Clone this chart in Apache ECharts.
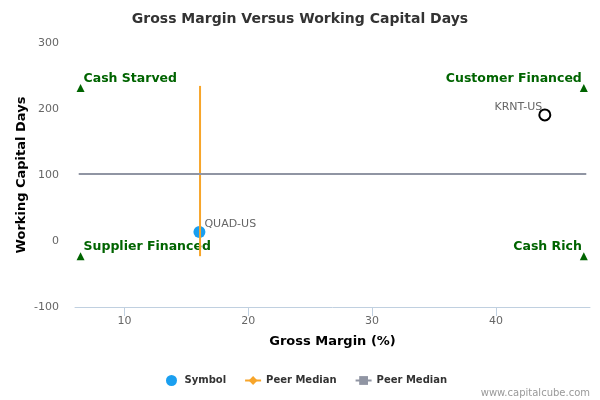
<!DOCTYPE html>
<html><head><meta charset="utf-8">
<script src="https://cdn.jsdelivr.net/npm/echarts@6/dist/echarts.min.js"></script>
<style>html,body{margin:0;padding:0;background:#fff}#c{width:600px;height:400px}</style>
</head><body><div id="c"></div>
<script>
const title = 'Gross Margin Versus Working Capital Days';
const xName = 'Gross Margin (%)';
const yName = 'Working Capital Days';
const xTicks = [10, 20, 30, 40];
const yTicks = [-100, 0, 100, 200, 300];
const symbolPoint = [[16.05, 13.6, 'QUAD-US']];
const peerPoint = [[43.95, 191, 'KRNT-US']];
const medianGM = [[16.1, -23], [16.1, 235]];
const medianWCD = [[6.3, 101.5], [47.3, 101.5]];
const quadrantLeft = [[6.45, 232, 'Cash Starved'], [6.45, -23, 'Supplier Financed']];
const quadrantRight = [[47.1, 232, 'Customer Financed'], [47.1, -23, 'Cash Rich']];

const F = 'DejaVu Sans, sans-serif';
const chart = echarts.init(document.getElementById('c'));
const qLabel = (align, dx) => ({
  show: true, position: 'top', align: align, distance: -1, offset: [dx, 0],
  formatter: p => p.data[2], color: '#006400', fontWeight: 'bold', fontSize: 12.5, fontFamily: F
});
chart.setOption({
  animation: false,
  title: { text: title, left: 'center', top: 7, textStyle: { fontSize: 14, fontWeight: 'bold', color: '#333', fontFamily: F } },
  graphic: [{ type: 'text', right: 10, bottom: 2, style: { text: 'www.capitalcube.com', fill: '#999', font: '10px ' + F } }],
  grid: { left: 75, right: 10, top: 43, bottom: 93 },
  legend: {
    bottom: 9, left: 161, itemGap: 18, itemWidth: 16, itemHeight: 11,
    textStyle: { fontWeight: 'bold', fontSize: 10, color: '#333', fontFamily: F },
    data: [{ name: 'Symbol', icon: 'circle' }, { name: 'Peer Median GM' }, { name: 'Peer Median WCD' }],
    formatter: n => n.startsWith('Peer Median') ? 'Peer Median' : n
  },
  xAxis: {
    type: 'value', min: 6, max: 47.6,
    name: xName, nameLocation: 'middle', nameGap: 28, nameMoveOverlap: false,
    nameTextStyle: { fontWeight: 'bold', fontSize: 13, color: '#000', fontFamily: F },
    axisLine: { show: true, onZero: false, lineStyle: { color: '#c0d0e0' } },
    axisTick: { show: true, length: 9, customValues: xTicks, lineStyle: { color: '#c0d0e0' } },
    axisLabel: { customValues: xTicks, color: '#666', fontSize: 11, fontFamily: F, margin: 9 },
    splitLine: { show: false }
  },
  yAxis: {
    type: 'value', min: -100, max: 300, interval: 100,
    name: yName, nameLocation: 'middle', nameGap: 47, nameMoveOverlap: false,
    nameTextStyle: { fontWeight: 'bold', fontSize: 13, color: '#000', fontFamily: F },
    axisLine: { show: false }, axisTick: { show: false },
    axisLabel: { customValues: yTicks, color: '#666', fontSize: 11, fontFamily: F, margin: 16 },
    splitLine: { show: false }
  },
  series: [
    { name: 'Peer Median GM', type: 'line', data: medianGM, symbol: 'diamond', symbolSize: 9, showSymbol: false,
      lineStyle: { color: '#f7a52a', width: 2 }, itemStyle: { color: '#f7a52a' }, silent: true },
    { name: 'Peer Median WCD', type: 'line', data: medianWCD, symbol: 'rect', symbolSize: 9, showSymbol: false,
      lineStyle: { color: '#9095a3', width: 2 }, itemStyle: { color: '#9095a3' }, silent: true },
    { name: 'Symbol', type: 'scatter', data: symbolPoint, symbol: 'circle', symbolSize: 12,
      itemStyle: { color: '#1a9ff0', opacity: 1 },
      label: { show: true, position: 'right', offset: [-6, -8], formatter: p => p.data[2], color: '#666', fontSize: 11, fontFamily: F } },
    { name: 'Peer', type: 'scatter', data: peerPoint, symbol: 'circle', symbolSize: 11,
      itemStyle: { color: '#fff', borderColor: '#000', borderWidth: 2, opacity: 1 },
      label: { show: true, position: 'left', offset: [9, -8], formatter: p => p.data[2], color: '#666', fontSize: 11, fontFamily: F } },
    { name: 'QL', type: 'scatter', data: quadrantLeft, symbol: 'triangle', symbolSize: 8,
      itemStyle: { color: '#006400', opacity: 1 }, label: qLabel('left', 3) },
    { name: 'QR', type: 'scatter', data: quadrantRight, symbol: 'triangle', symbolSize: 8,
      itemStyle: { color: '#006400', opacity: 1 }, label: qLabel('right', -2) }
  ]
});
</script></body></html>
